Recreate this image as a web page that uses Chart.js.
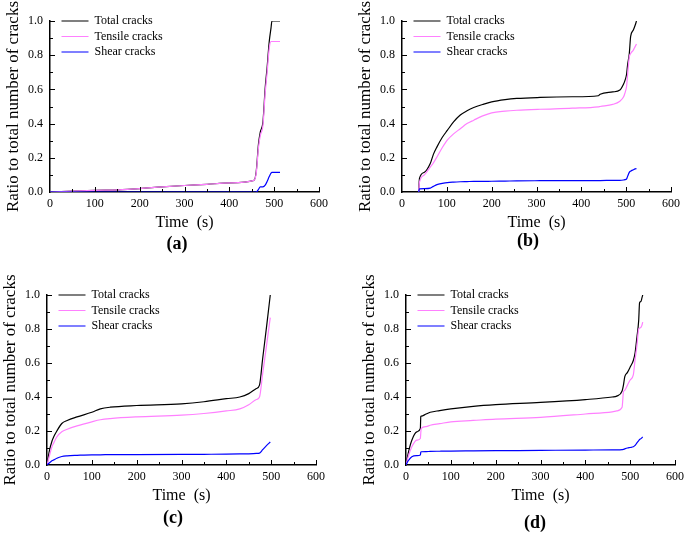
<!DOCTYPE html>
<html>
<head>
<meta charset="utf-8">
<script src="https://cdn.jsdelivr.net/npm/chart.js@4.4.1/dist/chart.umd.min.js"></script>
<style>
html, body { margin: 0; padding: 0; background: #fff; overflow: hidden; width: 685px; height: 534px; }
canvas { position: absolute; }
</style>
</head>
<body>
<canvas id="a"></canvas>
<canvas id="b"></canvas>
<canvas id="c"></canvas>
<canvas id="d"></canvas>
<script>
// values (time in s, ratio of cracks)
const seriesNames = ['Total cracks', 'Tensile cracks', 'Shear cracks'];
const xTicks = [0, 100, 200, 300, 400, 500, 600];
const yTicks = [0, 0.2, 0.4, 0.6, 0.8, 1.0];

const tA = [0, 50, 100, 150, 200, 250, 300, 350, 400, 455, 460, 465, 469, 475, 480, 484, 489, 493, 495, 513];
const totalA = [0, 0.005, 0.01, 0.013, 0.02, 0.03, 0.038, 0.045, 0.053, 0.068, 0.12, 0.28, 0.35, 0.41, 0.61, 0.72, 0.88, 0.96, 1.0, 1.0];
const tensileA = [0, 0.005, 0.01, 0.013, 0.02, 0.03, 0.038, 0.045, 0.053, 0.068, 0.11, 0.26, 0.33, 0.39, 0.58, 0.69, 0.84, 0.88, 0.88, 0.88];
const shearA = [0, 0, 0, 0, 0, 0, 0, 0, 0, 0, 0, 0.015, 0.03, 0.03, 0.04, 0.06, 0.09, 0.11, 0.115, 0.115];

const tB = [37, 39, 50, 63, 70, 78, 90, 101, 115, 130, 145, 160, 180, 200, 230, 256, 308, 380, 438, 442, 470, 486, 494, 497, 501, 503, 507, 510, 516, 520, 523];
const totalB = [0, 0.08, 0.115, 0.166, 0.22, 0.264, 0.32, 0.36, 0.41, 0.45, 0.475, 0.494, 0.512, 0.527, 0.54, 0.547, 0.553, 0.557, 0.563, 0.572, 0.585, 0.596, 0.63, 0.65, 0.69, 0.74, 0.81, 0.91, 0.947, 0.975, 1.0];
const tensileB = [0, 0.058, 0.1, 0.146, 0.17, 0.205, 0.26, 0.303, 0.34, 0.37, 0.4, 0.42, 0.445, 0.463, 0.473, 0.478, 0.484, 0.49, 0.498, 0.5, 0.512, 0.531, 0.555, 0.576, 0.62, 0.68, 0.79, 0.81, 0.83, 0.85, 0.865];
const shearB = [0, 0.018, 0.02, 0.023, 0.033, 0.043, 0.05, 0.055, 0.058, 0.06, 0.061, 0.062, 0.062, 0.063, 0.064, 0.065, 0.066, 0.067, 0.067, 0.067, 0.068, 0.068, 0.07, 0.072, 0.077, 0.09, 0.115, 0.122, 0.13, 0.135, 0.137];

const tC = [0, 5, 11, 15, 22, 33, 45, 67, 100, 119, 141, 200, 300, 350, 400, 430, 450, 467, 474, 481, 490, 498];
const totalC = [0, 0.08, 0.14, 0.166, 0.2, 0.244, 0.262, 0.283, 0.31, 0.33, 0.34, 0.35, 0.36, 0.372, 0.39, 0.4, 0.42, 0.45, 0.47, 0.625, 0.82, 1.0];
const tensileC = [0, 0.05, 0.107, 0.13, 0.165, 0.195, 0.21, 0.23, 0.254, 0.266, 0.273, 0.283, 0.293, 0.303, 0.318, 0.33, 0.355, 0.385, 0.4, 0.536, 0.71, 0.867];
const shearC = [0, 0.012, 0.025, 0.03, 0.04, 0.05, 0.054, 0.057, 0.06, 0.06, 0.061, 0.061, 0.062, 0.063, 0.064, 0.065, 0.066, 0.068, 0.07, 0.09, 0.115, 0.135];

const tD = [0, 5, 13, 24, 32, 33, 34, 45, 54, 75, 100, 150, 200, 300, 400, 460, 470, 482, 485, 488, 494, 500, 507, 511, 515, 519, 521, 524, 526, 528];
const totalD = [0, 0.07, 0.146, 0.195, 0.215, 0.285, 0.287, 0.3, 0.31, 0.32, 0.33, 0.345, 0.355, 0.368, 0.385, 0.4, 0.405, 0.435, 0.47, 0.52, 0.545, 0.576, 0.615, 0.66, 0.75, 0.85, 0.955, 0.962, 0.98, 1.0];
const tensileD = [0, 0.05, 0.107, 0.146, 0.156, 0.19, 0.215, 0.226, 0.234, 0.243, 0.254, 0.262, 0.27, 0.28, 0.3, 0.313, 0.318, 0.34, 0.43, 0.44, 0.47, 0.5, 0.53, 0.62, 0.7, 0.8, 0.805, 0.81, 0.82, 0.84];
const shearD = [0, 0.025, 0.049, 0.055, 0.059, 0.075, 0.078, 0.079, 0.08, 0.081, 0.082, 0.083, 0.084, 0.086, 0.088, 0.089, 0.089, 0.09, 0.092, 0.095, 0.1, 0.103, 0.107, 0.115, 0.13, 0.143, 0.15, 0.155, 0.16, 0.166];

const colors = ['#000000', '#ff80ff', '#0000ff'];

Chart.defaults.font.family = "'Liberation Serif', 'Times New Roman', serif";
Chart.defaults.color = '#000';

// small inward ticks like the original plots
const inTicks = {
  id: 'inTicks',
  afterDraw(chart) {
    const xs = chart.scales.x, ys = chart.scales.y, ctx = chart.ctx;
    ctx.save();
    ctx.strokeStyle = '#000';
    ctx.lineWidth = 1;
    ctx.beginPath();
    for (let v = 50; v <= 600; v += 50) {
      const px = Math.round(xs.getPixelForValue(v)) + 0.5;
      const len = v % 100 === 0 ? 5 : 3;
      ctx.moveTo(px, ys.bottom);
      ctx.lineTo(px, ys.bottom - len);
    }
    for (let i = 1; i <= 10; i++) {
      const py = Math.round(ys.getPixelForValue(i / 10)) + 0.5;
      const len = i % 2 === 0 ? 5 : 3;
      ctx.moveTo(xs.left, py);
      ctx.lineTo(xs.left + len, py);
    }
    ctx.stroke();
    ctx.restore();
  }
};

// legend at the top-left corner of the plot, caption nudged left a bit
const placeBoxes = {
  id: 'placeBoxes',
  afterLayout(chart, args, opts) {
    chart.legend.left = chart.chartArea.left + 8;
    chart.legend.top = chart.chartArea.top - 9.5;
    chart.titleBlock.left += opts.shift;
    chart.titleBlock.right += opts.shift;
  }
};

function pts(t, v) {
  return t.map((x, i) => ({ x: x, y: v[i] }));
}

function makePanel(id, caption, t, total, tensile, shear, g) {
  const H = 267;
  const cL = g.axisX - 50, cT = g.plotTop - 21;
  const W = g.plotRight - cL + 20;
  const pbr = g.plotBottom - cT;
  const pt = g.capY - cT - (pbr + 40 + 10.8);
  const padB = H - pbr - 40 - 21.6 - pt;
  const shift = g.capX - (g.axisX + g.plotRight) / 2;

  const cv = document.getElementById(id);
  cv.width = W; cv.height = H;
  cv.style.left = cL + 'px';
  cv.style.top = cT + 'px';

  const values = [total, tensile, shear];
  new Chart(cv, {
    type: 'line',
    data: {
      datasets: values.map((v, i) => ({
        label: seriesNames[i],
        data: pts(t, v),
        borderColor: colors[i],
        backgroundColor: colors[i],
        borderWidth: 1.2,
        pointRadius: 0,
        cubicInterpolationMode: 'monotone',
        order: 3 - i
      }))
    },
    options: {
      responsive: false,
      animation: false,
      events: [],
      layout: { padding: { left: 0, right: 20, top: 21, bottom: padB } },
      plugins: {
        placeBoxes: { shift: shift },
        legend: {
          position: 'chartArea',
          align: 'start',
          labels: {
            usePointStyle: true,
            pointStyle: 'line',
            pointStyleWidth: 27,
            padding: 3.5,
            font: { size: 12 },
            color: '#000',
            sort: (a, b) => a.datasetIndex - b.datasetIndex
          }
        },
        title: {
          display: true,
          text: caption,
          position: 'bottom',
          fullSize: false,
          font: { size: 18, weight: 'bold' },
          padding: { top: pt, bottom: 0 },
          color: '#000'
        },
        tooltip: { enabled: false }
      },
      scales: {
        x: {
          type: 'linear',
          min: xTicks[0],
          max: xTicks[xTicks.length - 1],
          afterBuildTicks: s => { s.ticks = xTicks.map(v => ({ value: v })); },
          afterFit: s => { s.height = 40; },
          grid: { display: false, drawTicks: false },
          border: { display: true, color: '#000', width: 1.5 },
          ticks: { padding: 5, font: { size: 12 }, color: '#000', maxRotation: 0 },
          title: { display: true, text: 'Time  (s)', font: { size: 16 }, padding: { top: 0, bottom: 0 }, color: '#000' }
        },
        y: {
          min: 0,
          max: 1,
          afterBuildTicks: s => { s.ticks = yTicks.map(v => ({ value: v })); },
          afterFit: s => { s.width = 50; },
          grid: { display: false, drawTicks: false },
          border: { display: true, color: '#000', width: 1.5 },
          ticks: { padding: 7, font: { size: 12 }, color: '#000', callback: v => v.toFixed(1) },
          title: { display: true, text: 'Ratio to total number of cracks', font: { size: 17 }, padding: { top: 3.8, bottom: 0 }, color: '#000' }
        }
      }
    },
    plugins: [inTicks, placeBoxes]
  });
}

makePanel('a', '(a)', tA, totalA, tensileA, shearA, { axisX: 50, plotRight: 319, plotTop: 21, plotBottom: 192, capX: 177, capY: 244 });
makePanel('b', '(b)', tB, totalB, tensileB, shearB, { axisX: 402, plotRight: 671, plotTop: 21, plotBottom: 192, capX: 528, capY: 241.5 });
makePanel('c', '(c)', tC, totalC, tensileC, shearC, { axisX: 47, plotRight: 316, plotTop: 295, plotBottom: 465, capX: 173, capY: 518.5 });
makePanel('d', '(d)', tD, totalD, tensileD, shearD, { axisX: 406, plotRight: 675, plotTop: 295, plotBottom: 465, capX: 535, capY: 523 });
</script>
</body>
</html>
